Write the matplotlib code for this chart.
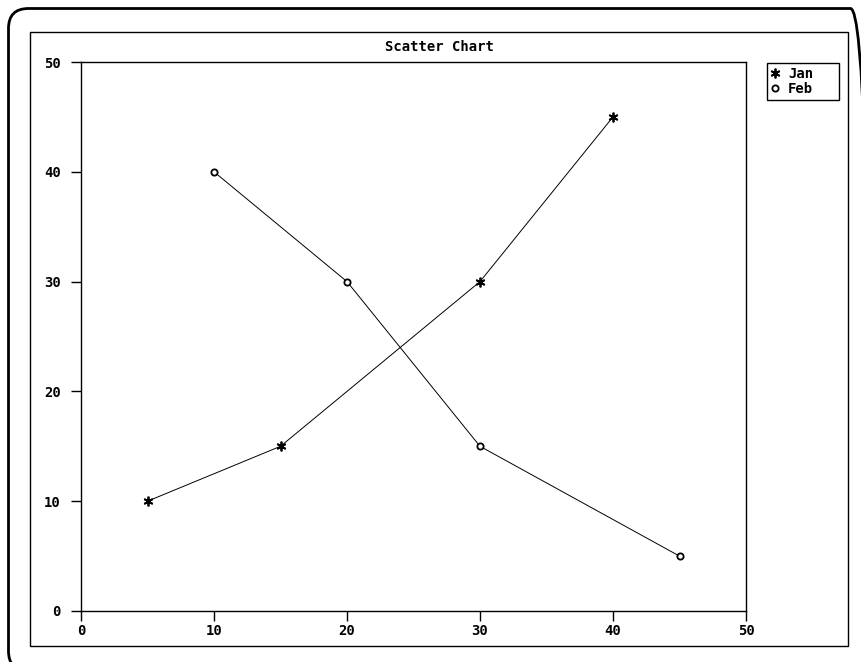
import matplotlib.pyplot as plt
from matplotlib.patches import FancyBboxPatch, Rectangle

# series data
jan_x = [5, 15, 30, 40]
jan_y = [10, 15, 30, 45]
feb_x = [10, 20, 30, 45]
feb_y = [40, 30, 15, 5]
ticks = [0, 10, 20, 30, 40, 50]

plt.rcParams['font.family'] = ['DejaVu Sans Mono']
plt.rcParams['font.weight'] = 'bold'
plt.rcParams['font.size'] = 10

fig = plt.figure(figsize=(8.61, 6.62), dpi=100)

# outer rounded frame (runs off the right/bottom edge) and inner frame, in inches
outer = FancyBboxPatch((0.085, -0.09), 8.62, 6.625,
                       boxstyle="round,pad=0,rounding_size=0.2",
                       transform=fig.dpi_scale_trans, fill=False,
                       edgecolor='black', linewidth=2.0)
fig.patches.append(outer)
inner = Rectangle((0.30, 0.16), 8.18, 6.14, transform=fig.dpi_scale_trans,
                  fill=False, edgecolor='black', linewidth=1.0)
fig.patches.append(inner)

ax = fig.add_axes([81/861, 1-611/662, 665/861, 549/662])
ax.plot(jan_x, jan_y, color='black', linewidth=0.7, marker=(6, 2, 0),
        markersize=7, markeredgewidth=1.3, label='Jan')
ax.plot(feb_x, feb_y, color='black', linewidth=0.7, marker='o',
        markersize=4.5, markerfacecolor='white', markeredgewidth=1.3, label='Feb')

ax.set_xlim(0, 50)
ax.set_ylim(0, 50)
ax.set_xticks(ticks)
ax.set_yticks(ticks)
ax.tick_params(direction='out', length=7.5, width=1, labelsize=10)
ax.tick_params(axis='x', pad=2)
ax.tick_params(axis='y', pad=7)
for s in ax.spines.values():
    s.set_linewidth(1)

fig.text(439/861, 1-47/662, "Scatter Chart", ha='center', va='center',
         fontsize=10, fontweight='bold')

ax.legend(loc='upper left', bbox_to_anchor=(767/861, 1-99/662, 72/861, 36/662),
          bbox_transform=fig.transFigure, mode='expand', borderaxespad=0,
          fancybox=False, edgecolor='black', framealpha=1, handlelength=0.6,
          handletextpad=0.6, borderpad=0.3, labelspacing=0.05, fontsize=10)
for line in ax.get_legend().get_lines():
    line.set_linestyle('none')
ax.get_legend().get_frame().set_linewidth(1)

fig.savefig("out.png", dpi=100)
